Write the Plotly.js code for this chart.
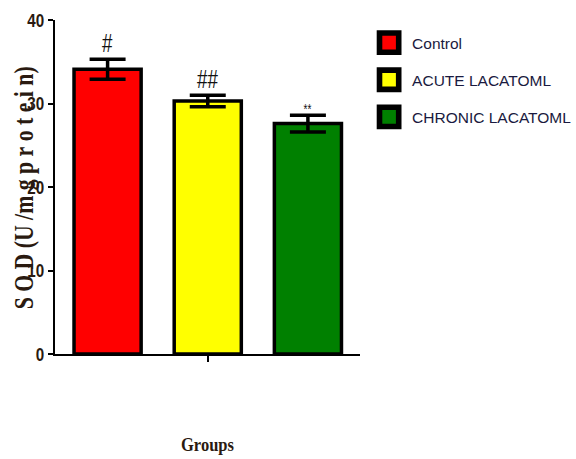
<!DOCTYPE html>
<html>
<head>
<meta charset="utf-8">
<script src="https://cdn.plot.ly/plotly-3.0.1.min.js"></script>
<style>html,body{margin:0;padding:0;background:#fff;}#chart{width:576px;height:459px;}</style>
</head>
<body>
<div id="chart"></div>
<script>
const groups = ["Control", "ACUTE LACATOML", "CHRONIC LACATOML"];
const sodMean = [34.1, 30.3, 27.6];
const sodErr = [1.2, 0.7, 1.0];
const barColors = ["#ff0000", "#ffff00", "#008000"];
const markLabels = ["#", "##", "**"];
const markY = [37.2, 32.9, 29.4];
const markSizes = [26, 26, 14];
const yTicks = [0, 10, 20, 30, 40];
const yTitleParts = ["S", "O", "D", "(U", "/m", "g", "p", "r", "o", "t", "e", "i", "n)"];
const xTitleText = "Groups";

const traces = groups.map((g, i) => ({
  type: "bar",
  name: g,
  x: [g],
  y: [sodMean[i]],
  width: 0.67,
  legendgroup: "g" + i,
  marker: { color: barColors[i], line: { color: "#000", width: 3.5 } },
  error_y: { type: "data", array: [sodErr[i]], visible: true, color: "#000", thickness: 3.5, width: 18 }
}));

const annotations = groups.map((g, i) => ({
  x: g, y: markY[i], xref: "x", yref: "y",
  text: markLabels[i], showarrow: false,
  font: { family: "Liberation Sans, Arial, sans-serif", size: markSizes[i], color: "#111" },
  yanchor: "middle"
}));
annotations.push({
  xref: "paper", yref: "paper", x: -0.103, y: 0.497, xanchor: "center", yanchor: "middle",
  text: yTitleParts.join("\u00a0"), textangle: -90, showarrow: false,
  font: { family: "Liberation Serif, Times New Roman, serif", size: 27, color: "#2a1a10", weight: 700 }
});

const layout = {
  width: 576, height: 459,
  margin: { l: 55, r: 216, t: 20, b: 105, autoexpand: false },
  paper_bgcolor: "#fff", plot_bgcolor: "#fff",
  barmode: "overlay",
  showlegend: true,
  legend: {
    x: 1.02, y: 0.982, xanchor: "left", yanchor: "top",
    traceorder: "grouped", tracegroupgap: 14, itemwidth: 36,
    font: { family: "Liberation Sans, Arial, sans-serif", size: 15.5, color: "#1a1a40" },
    bgcolor: "rgba(0,0,0,0)"
  },
  xaxis: {
    type: "category", range: [-0.525, 2.52],
    showline: true, linecolor: "#000", linewidth: 2,
    showgrid: false, zeroline: false,
    tickvals: [groups[1]], ticktext: [""], ticks: "outside", ticklen: 6, tickwidth: 1.5, tickcolor: "#000",
    title: { text: xTitleText, standoff: 74,
      font: { family: "Liberation Serif, Times New Roman, serif", size: 19, color: "#2a1a10", weight: 700 } }
  },
  yaxis: {
    range: [0, 40], tickvals: yTicks,
    showline: true, linecolor: "#000", linewidth: 2,
    showgrid: false, zeroline: false,
    ticks: "outside", ticklen: 5, tickwidth: 2, tickcolor: "#000",
    tickfont: { family: "Liberation Sans, Arial, sans-serif", size: 19, color: "#2a1a10", weight: 700 }
  },
  annotations: annotations
};

function squeeze(t, len) {
  t.setAttribute("textLength", len.toFixed(2));
  t.setAttribute("lengthAdjust", "spacingAndGlyphs");
}
function condense(root, selector, ratio) {
  root.querySelectorAll(selector).forEach(t => {
    const len = t.getComputedTextLength();
    if (len > 0) squeeze(t, len * ratio);
  });
}

const gd = document.getElementById("chart");
Plotly.newPlot(gd, traces, layout, { displayModeBar: false, staticPlot: true }).then(() => {
  condense(gd, ".ytick text", 0.8);
  condense(gd, ".xtitle", 0.87);
  gd.querySelectorAll(".annotation-text").forEach((t, i) => {
    if (i < groups.length) squeeze(t, t.getComputedTextLength() * 0.72);
    else squeeze(t, 243);
  });
  gd.querySelectorAll(".legendpoints path").forEach(p => {
    const tr = p.getAttribute("transform") || "";
    p.setAttribute("transform", tr + " scale(1.6)");
  });
});
</script>
</body>
</html>
